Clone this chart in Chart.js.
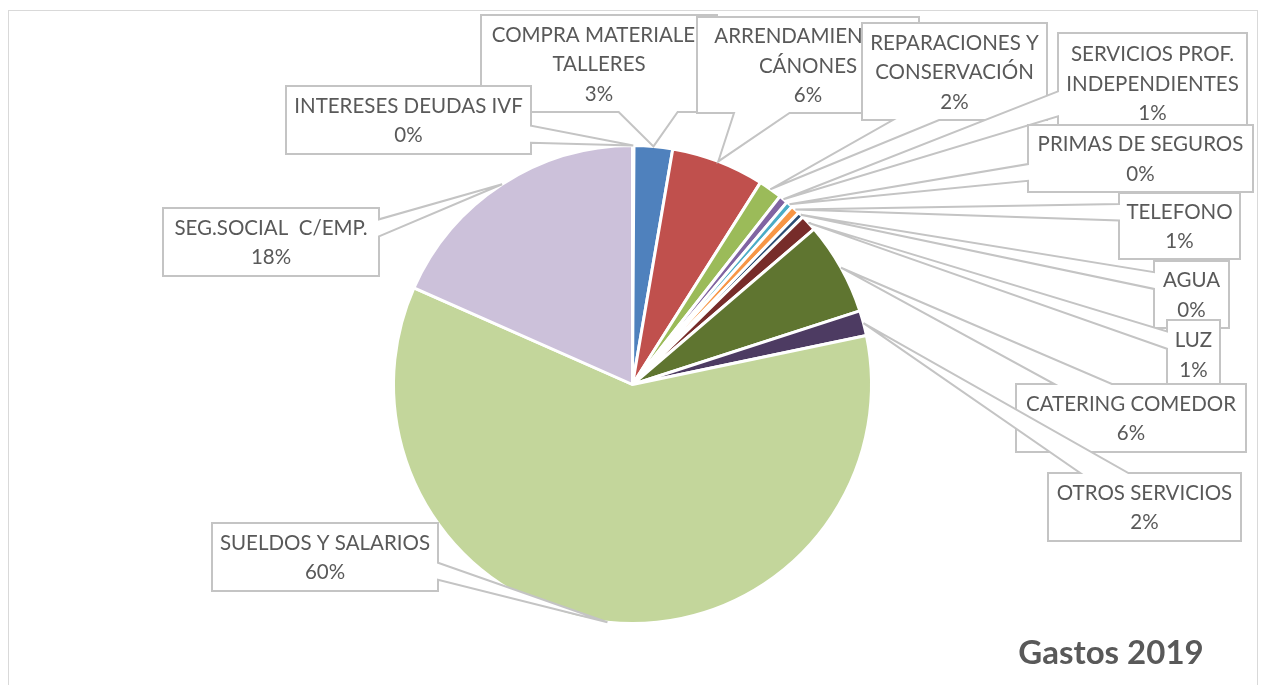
<!DOCTYPE html>
<html>
<head>
<meta charset="utf-8">
<script src="https://cdn.jsdelivr.net/npm/chart.js@4/dist/chart.umd.min.js"></script>
<style>
  html, body { margin: 0; padding: 0; background: #ffffff; }
  #wrap { width: 1262px; height: 685px; position: relative; overflow: hidden; }
</style>
</head>
<body>
<div id="wrap"><canvas id="c" width="1262" height="685"></canvas></div>
<script>
// ---- data ----
const categories = [
  ['INTERESES DEUDAS IVF'],
  ['COMPRA MATERIALES', 'TALLERES'],
  ['ARRENDAMIENTOS', 'CÁNONES'],
  ['REPARACIONES Y', 'CONSERVACIÓN'],
  ['SERVICIOS PROF.', 'INDEPENDIENTES'],
  ['PRIMAS DE SEGUROS'],
  ['TELEFONO'],
  ['AGUA'],
  ['LUZ'],
  ['CATERING COMEDOR'],
  ['OTROS SERVICIOS'],
  ['SUELDOS Y SALARIOS'],
  ['SEG.SOCIAL  C/EMP.']
];
const values = [0.1, 2.6, 6.3, 1.6, 0.6, 0.45, 0.6, 0.4, 1.1, 6.3, 1.7, 60.0, 18.4];
const sliceColors = ['#4F81BD', '#4F81BD', '#C0504D', '#9BBB59', '#8064A2', '#4BACC6', '#F79646',
                     '#2C4D75', '#772C2A', '#5F7530', '#4D3B62', '#C3D69B', '#CCC1DA'];
const chartTitle = 'Gastos 2019';

// ---- layout of callout boxes (left, top, right, bottom) ----
const labelBoxes = [
  [286, 86, 531, 154],
  [481, 15, 717, 112],
  [697, 17, 919, 113],
  [862, 23, 1047, 120],
  [1058, 33, 1247, 133],
  [1028, 125, 1253, 192],
  [1119, 193, 1240, 259],
  [1154, 261, 1229, 328],
  [1167, 320, 1220, 389],
  [1016, 384, 1246, 452],
  [1048, 473, 1241, 541],
  [212, 523, 438, 591],
  [163, 208, 379, 276]
];
const drawOrder = [1, 2, 3, 4, 5, 6, 7, 8, 9, 10, 11, 12, 0];

const FONT = "Lato, 'Liberation Sans', Arial, sans-serif";
const TEXT_COLOR = '#595959';
const BOX_COLOR = '#C4C4C4';

function calloutPath(ctx, l, t, r, b, tx, ty) {
  const w = r - l, h = b - t, hc = (l + r) / 2, vc = (t + b) / 2;
  const dxPos = tx - hc, dyPos = ty - vc;
  const dq = dxPos * h / w;
  const dz = Math.abs(dyPos) - Math.abs(dq);
  const x1 = l + w * (dxPos > 0 ? 7 : 2) / 12, x2 = l + w * (dxPos > 0 ? 10 : 5) / 12;
  const y1 = t + h * (dyPos > 0 ? 7 : 2) / 12, y2 = t + h * (dyPos > 0 ? 10 : 5) / 12;
  const inside = tx >= l && tx <= r && ty >= t && ty <= b;
  ctx.beginPath();
  ctx.moveTo(l, t);
  if (!inside && dz > 0 && dyPos < 0) { ctx.lineTo(x1, t); ctx.lineTo(tx, ty); ctx.lineTo(x2, t); }
  ctx.lineTo(r, t);
  if (!inside && dz <= 0 && dxPos > 0) { ctx.lineTo(r, y1); ctx.lineTo(tx, ty); ctx.lineTo(r, y2); }
  ctx.lineTo(r, b);
  if (!inside && dz > 0 && dyPos > 0) { ctx.lineTo(x2, b); ctx.lineTo(tx, ty); ctx.lineTo(x1, b); }
  ctx.lineTo(l, b);
  if (!inside && dz <= 0 && dxPos < 0) { ctx.lineTo(l, y2); ctx.lineTo(tx, ty); ctx.lineTo(l, y1); }
  ctx.closePath();
}

const calloutPlugin = {
  id: 'callouts',
  beforeDraw(chart) {
    const ctx = chart.ctx;
    ctx.save();
    ctx.strokeStyle = '#D9D9D9';
    ctx.lineWidth = 1;
    ctx.strokeRect(8.5, 10.5, 1249, 700);
    ctx.restore();
  },
  afterDraw(chart) {
    const ctx = chart.ctx;
    const meta = chart.getDatasetMeta(0);
    const data = chart.data.datasets[0].data;
    const total = data.reduce((a, b) => a + b, 0);
    ctx.save();
    drawOrder.forEach(i => {
      const arc = meta.data[i];
      const mid = (arc.startAngle + arc.endAngle) / 2;
      const tx = arc.x + Math.cos(mid) * arc.outerRadius;
      const ty = arc.y + Math.sin(mid) * arc.outerRadius;
      const [l, t, r, b] = labelBoxes[i];
      calloutPath(ctx, l, t, r, b, tx, ty);
      ctx.fillStyle = '#ffffff';
      ctx.fill();
      ctx.strokeStyle = BOX_COLOR;
      ctx.lineWidth = 2;
      ctx.lineJoin = 'miter';
      ctx.stroke();
      const lines = chart.data.labels[i].concat([Math.round(data[i] / total * 100) + '%']);
      ctx.fillStyle = TEXT_COLOR;
      ctx.font = '20.5px ' + FONT;
      ctx.textAlign = 'center';
      ctx.textBaseline = 'middle';
      const lh = 29.5;
      const cy = (t + b) / 2 + 1;
      const cx = (l + r) / 2;
      lines.forEach((s, k) => {
        ctx.fillText(s, cx, cy + (k - (lines.length - 1) / 2) * lh);
      });
    });
    ctx.fillStyle = TEXT_COLOR;
    ctx.font = 'bold 33px ' + FONT;
    ctx.textAlign = 'center';
    ctx.textBaseline = 'middle';
    ctx.fillText(chartTitle, 1111, 653);
    ctx.restore();
  }
};

new Chart(document.getElementById('c'), {
  type: 'pie',
  data: {
    labels: categories,
    datasets: [{
      data: values,
      backgroundColor: sliceColors,
      borderColor: '#ffffff',
      borderWidth: 3
    }]
  },
  options: {
    responsive: false,
    animation: false,
    devicePixelRatio: 1,
    radius: 239,
    layout: { padding: { left: 3, right: 0, top: 144, bottom: 60 } },
    plugins: { legend: { display: false }, tooltip: { enabled: false }, title: { display: false } }
  },
  plugins: [calloutPlugin]
});
</script>
</body>
</html>
